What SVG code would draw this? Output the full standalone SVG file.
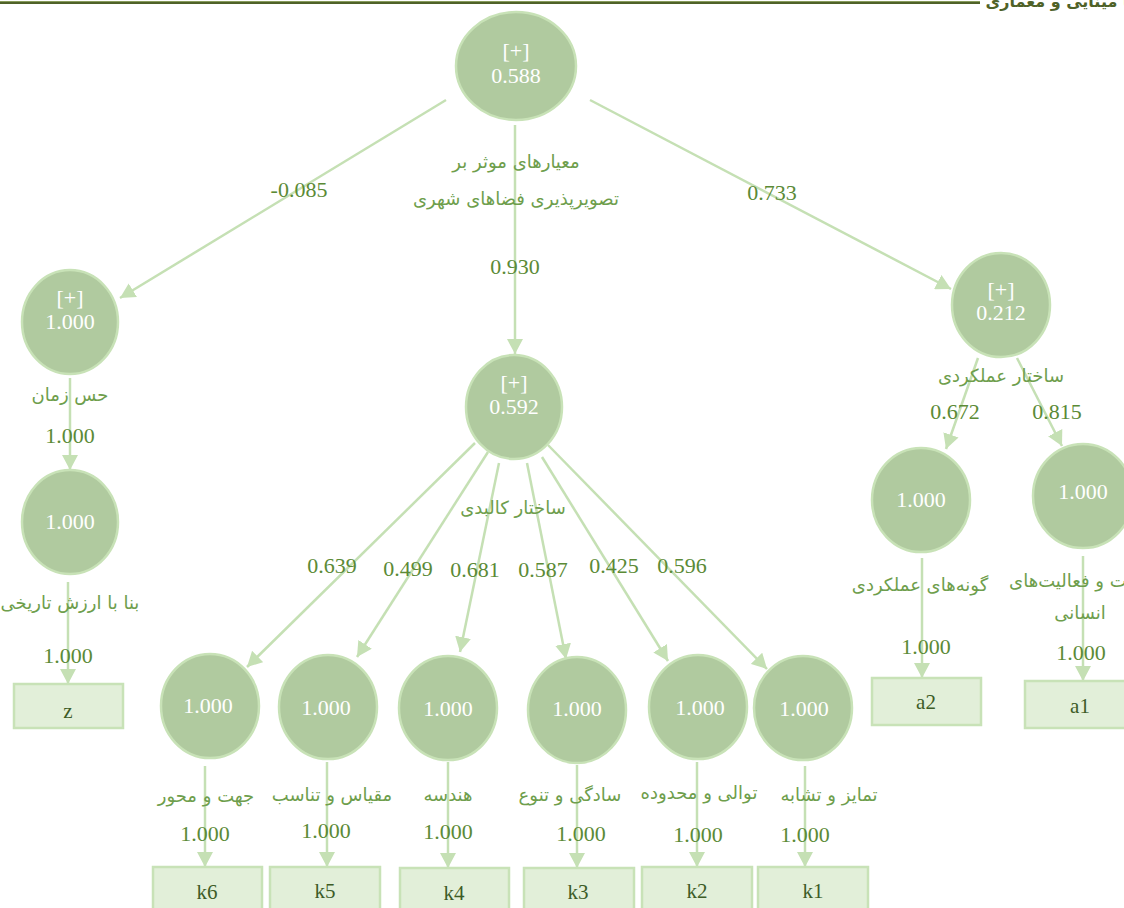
<svg xmlns="http://www.w3.org/2000/svg" width="1124" height="908" viewBox="0 0 1124 908">
<defs>
<style>
.c{fill:#b0ca9f;stroke:#c8e2b7;stroke-width:2.5}
.b{fill:#e2efd9;stroke:#c8e2b7;stroke-width:2.5}
.cv{font-family:"Liberation Serif",serif;font-size:22px;fill:#ffffff;text-anchor:middle}
.co{font-family:"Liberation Serif",serif;font-size:22px;fill:#5b8a36;text-anchor:middle}
.bt{font-family:"Liberation Serif",serif;font-size:21px;fill:#3d5c27;text-anchor:middle}
.lb{font-family:"DejaVu Sans","Noto Sans",sans-serif;font-size:18px;fill:#6e9e4c;text-anchor:middle}
.e{stroke:#c5e0b4;stroke-width:2.5;fill:none;marker-end:url(#ah)}
</style>
<marker id="ah" markerUnits="userSpaceOnUse" markerWidth="16" markerHeight="16" refX="15" refY="8" orient="auto">
<path d="M0,0 L15,8 L0,16 z" fill="#c5e0b4"/>
</marker>
</defs>
<rect width="1124" height="908" fill="#ffffff"/>
<g id="header">
<line x1="0" y1="1.5" x2="980" y2="1.5" stroke="#889c5c" stroke-width="1"/>
<line x1="0" y1="3" x2="980" y2="3" stroke="#4f6228" stroke-width="2"/>
<text x="1162" y="7" font-family="DejaVu Sans,sans-serif" font-size="16" font-weight="bold" fill="#4f6228" text-anchor="end">کیمیا مینایی و معماری</text>
</g>
<g id="connectors">
<line class="e" x1="515" y1="125" x2="515" y2="354"/>
<line class="e" x1="446" y1="100" x2="120" y2="298"/>
<line class="e" x1="590" y1="100" x2="951" y2="289"/>
<line class="e" x1="70" y1="378" x2="70" y2="470"/>
<line class="e" x1="68" y1="582" x2="68" y2="684"/>
<line class="e" x1="978" y1="358" x2="946" y2="449"/>
<line class="e" x1="1017" y1="358" x2="1062" y2="446"/>
<line class="e" x1="922" y1="558" x2="922" y2="678"/>
<line class="e" x1="1083" y1="556" x2="1083" y2="681"/>
<line class="e" x1="475" y1="443" x2="247" y2="667"/>
<line class="e" x1="488" y1="452" x2="357" y2="657"/>
<line class="e" x1="499" y1="463" x2="460" y2="652"/>
<line class="e" x1="527" y1="463" x2="566" y2="659"/>
<line class="e" x1="542" y1="457" x2="668" y2="661"/>
<line class="e" x1="548" y1="445" x2="767" y2="669"/>
<line class="e" x1="205" y1="766" x2="205" y2="867"/>
<line class="e" x1="327" y1="762" x2="327" y2="867"/>
<line class="e" x1="448" y1="762" x2="448" y2="868"/>
<line class="e" x1="577" y1="765" x2="577" y2="868"/>
<line class="e" x1="697" y1="762" x2="697" y2="867"/>
<line class="e" x1="805" y1="766" x2="805" y2="867"/>
<text class="co" x="515" y="274">0.930</text>
<text class="co" x="299" y="197">-0.085</text>
<text class="co" x="772" y="200">0.733</text>
<text class="co" x="70" y="443">1.000</text>
<text class="co" x="68" y="663">1.000</text>
<text class="co" x="955" y="419">0.672</text>
<text class="co" x="1057" y="419">0.815</text>
<text class="co" x="926" y="654">1.000</text>
<text class="co" x="1081" y="660">1.000</text>
<text class="co" x="332" y="573">0.639</text>
<text class="co" x="408" y="576">0.499</text>
<text class="co" x="475" y="577">0.681</text>
<text class="co" x="543" y="577">0.587</text>
<text class="co" x="614" y="573">0.425</text>
<text class="co" x="682" y="573">0.596</text>
<text class="co" x="205" y="841">1.000</text>
<text class="co" x="326" y="838">1.000</text>
<text class="co" x="448" y="839">1.000</text>
<text class="co" x="581" y="841">1.000</text>
<text class="co" x="698" y="842">1.000</text>
<text class="co" x="805" y="842">1.000</text>
</g>
<g id="n_root">
<ellipse class="c" cx="516" cy="66" rx="60" ry="54"/>
<text class="cv" x="516" y="58">[+]</text>
<text class="cv" x="516" y="83">0.588</text>
<text class="lb" x="516" y="168">معیارهای موثر بر</text>
<text class="lb" x="516" y="205">تصویرپذیری فضاهای شهری</text>
</g>
<g id="n_time">
<ellipse class="c" cx="70" cy="322" rx="48" ry="52"/>
<text class="cv" x="70" y="305">[+]</text>
<text class="cv" x="70" y="329">1.000</text>
<text class="lb" x="70" y="401">حس زمان</text>
</g>
<g id="n_hist">
<ellipse class="c" cx="70" cy="522" rx="48" ry="52"/>
<text class="cv" x="70" y="529">1.000</text>
<text class="lb" x="70" y="609">بنا با ارزش تاریخی</text>
</g>
<g id="n_z"><rect class="b" x="14" y="684" width="109" height="44"/><text class="bt" x="68" y="718">z</text></g>
<g id="n_phys">
<ellipse class="c" cx="514" cy="407" rx="48" ry="52"/>
<text class="cv" x="514" y="390">[+]</text>
<text class="cv" x="514" y="414">0.592</text>
<text class="lb" x="513" y="514">ساختار کالبدی</text>
</g>
<g id="n_func">
<ellipse class="c" cx="1001" cy="305" rx="49" ry="52"/>
<text class="cv" x="1001" y="297">[+]</text>
<text class="cv" x="1001" y="320">0.212</text>
<text class="lb" x="1001" y="382">ساختار عملکردی</text>
</g>
<g id="n_a2c">
<ellipse class="c" cx="921" cy="500" rx="49" ry="52"/>
<text class="cv" x="921" y="507">1.000</text>
<text class="lb" x="920" y="591">گونه‌های عملکردی</text>
</g>
<g id="n_a1c">
<ellipse class="c" cx="1083" cy="496" rx="50" ry="52"/>
<text class="cv" x="1083" y="499">1.000</text>
<text class="lb" x="1083" y="587">حرکت و فعالیت‌های</text>
<text class="lb" x="1080" y="619">انسانی</text>
</g>
<g id="n_a2"><rect class="b" x="872" y="678" width="109" height="47"/><text class="bt" x="926" y="709">a2</text></g>
<g id="n_a1"><rect class="b" x="1025" y="681" width="104" height="47"/><text class="bt" x="1080" y="713">a1</text></g>
<g id="n_k6c"><ellipse class="c" cx="210" cy="706" rx="49" ry="52"/><text class="cv" x="208" y="713">1.000</text><text class="lb" x="206" y="802">جهت و محور</text></g>
<g id="n_k5c"><ellipse class="c" cx="328" cy="707" rx="49" ry="52"/><text class="cv" x="326" y="715">1.000</text><text class="lb" x="332" y="801">مقیاس و تناسب</text></g>
<g id="n_k4c"><ellipse class="c" cx="448" cy="708" rx="49" ry="52"/><text class="cv" x="448" y="716">1.000</text><text class="lb" x="448" y="801">هندسه</text></g>
<g id="n_k3c"><ellipse class="c" cx="577" cy="710" rx="49" ry="53"/><text class="cv" x="577" y="716">1.000</text><text class="lb" x="570" y="801">سادگی و تنوع</text></g>
<g id="n_k2c"><ellipse class="c" cx="698" cy="707" rx="49" ry="52"/><text class="cv" x="700" y="715">1.000</text><text class="lb" x="699" y="799">توالی و محدوده</text></g>
<g id="n_k1c"><ellipse class="c" cx="803" cy="708" rx="49" ry="52"/><text class="cv" x="804" y="716">1.000</text><text class="lb" x="829" y="801">تمایز و تشابه</text></g>
<g id="n_k6"><rect class="b" x="153" y="867" width="109" height="50"/><text class="bt" x="207" y="899">k6</text></g>
<g id="n_k5"><rect class="b" x="270" y="867" width="110" height="50"/><text class="bt" x="325" y="898">k5</text></g>
<g id="n_k4"><rect class="b" x="400" y="868" width="109" height="50"/><text class="bt" x="454" y="900">k4</text></g>
<g id="n_k3"><rect class="b" x="524" y="868" width="110" height="50"/><text class="bt" x="578" y="899">k3</text></g>
<g id="n_k2"><rect class="b" x="642" y="867" width="110" height="50"/><text class="bt" x="697" y="898">k2</text></g>
<g id="n_k1"><rect class="b" x="758" y="867" width="110" height="50"/><text class="bt" x="813" y="898">k1</text></g>
</svg>
